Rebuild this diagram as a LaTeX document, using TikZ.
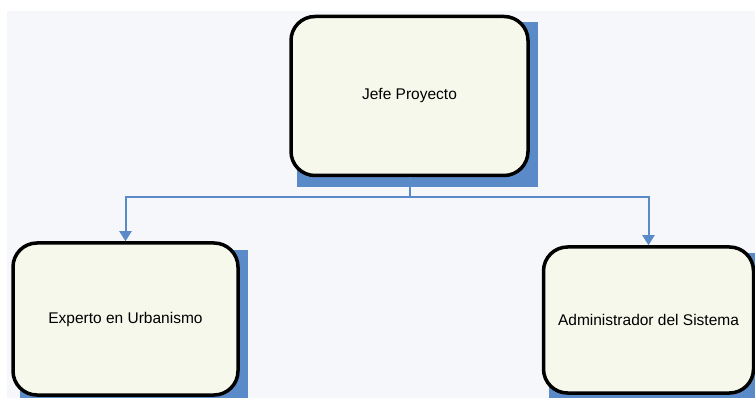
\documentclass[tikz,border=0pt]{standalone}
\usepackage{xcolor}
\usepackage{fontspec}
\setmainfont{Liberation Sans}
\usetikzlibrary{arrows.meta}

\definecolor{fondo}{HTML}{F5F7FB}
\definecolor{crema}{HTML}{F7F8EC}
\definecolor{azul}{HTML}{5A8AC8}

\tikzset{
  rol/.style={draw=black, line width=3.5pt, rounded corners=24pt, fill=crema,
    font=\fontsize{15.5}{18}\selectfont, align=center, inner sep=0pt},
  enlace/.style={draw=azul, line width=2pt, -{Triangle[width=12pt,length=10pt]}}
}

\begin{document}
\begin{tikzpicture}[x=1pt, y=-1pt]
	\useasboundingbox (0,0) rectangle (755,398);
	\fill[fondo] (7,11) rectangle (755,398);
	
	% Shadows
	\fill[azul] (297,22) rectangle (538,187);
	\fill[azul] (20,250) rectangle (248,398);
	\fill[azul] (549,253) rectangle (755,398);
	
	% Nodes
	\node[rol, minimum width=237pt, minimum height=159pt] (jefe) at (409.5,96) {Jefe Proyecto};
	\node[rol, minimum width=225pt, minimum height=152pt] (experto) at (125.5,319) {Experto en Urbanismo};
	\node[rol, minimum width=210pt, minimum height=146pt] (admin) at (648.5,320) {Administrador del Sistema};
	
	% Edges
	\draw[enlace] (jefe.south) -- ++(0,20) -| (experto.north);
	\draw[enlace] (jefe.south) -- ++(0,20) -| (admin.north);
	
\end{tikzpicture}
\end{document}
